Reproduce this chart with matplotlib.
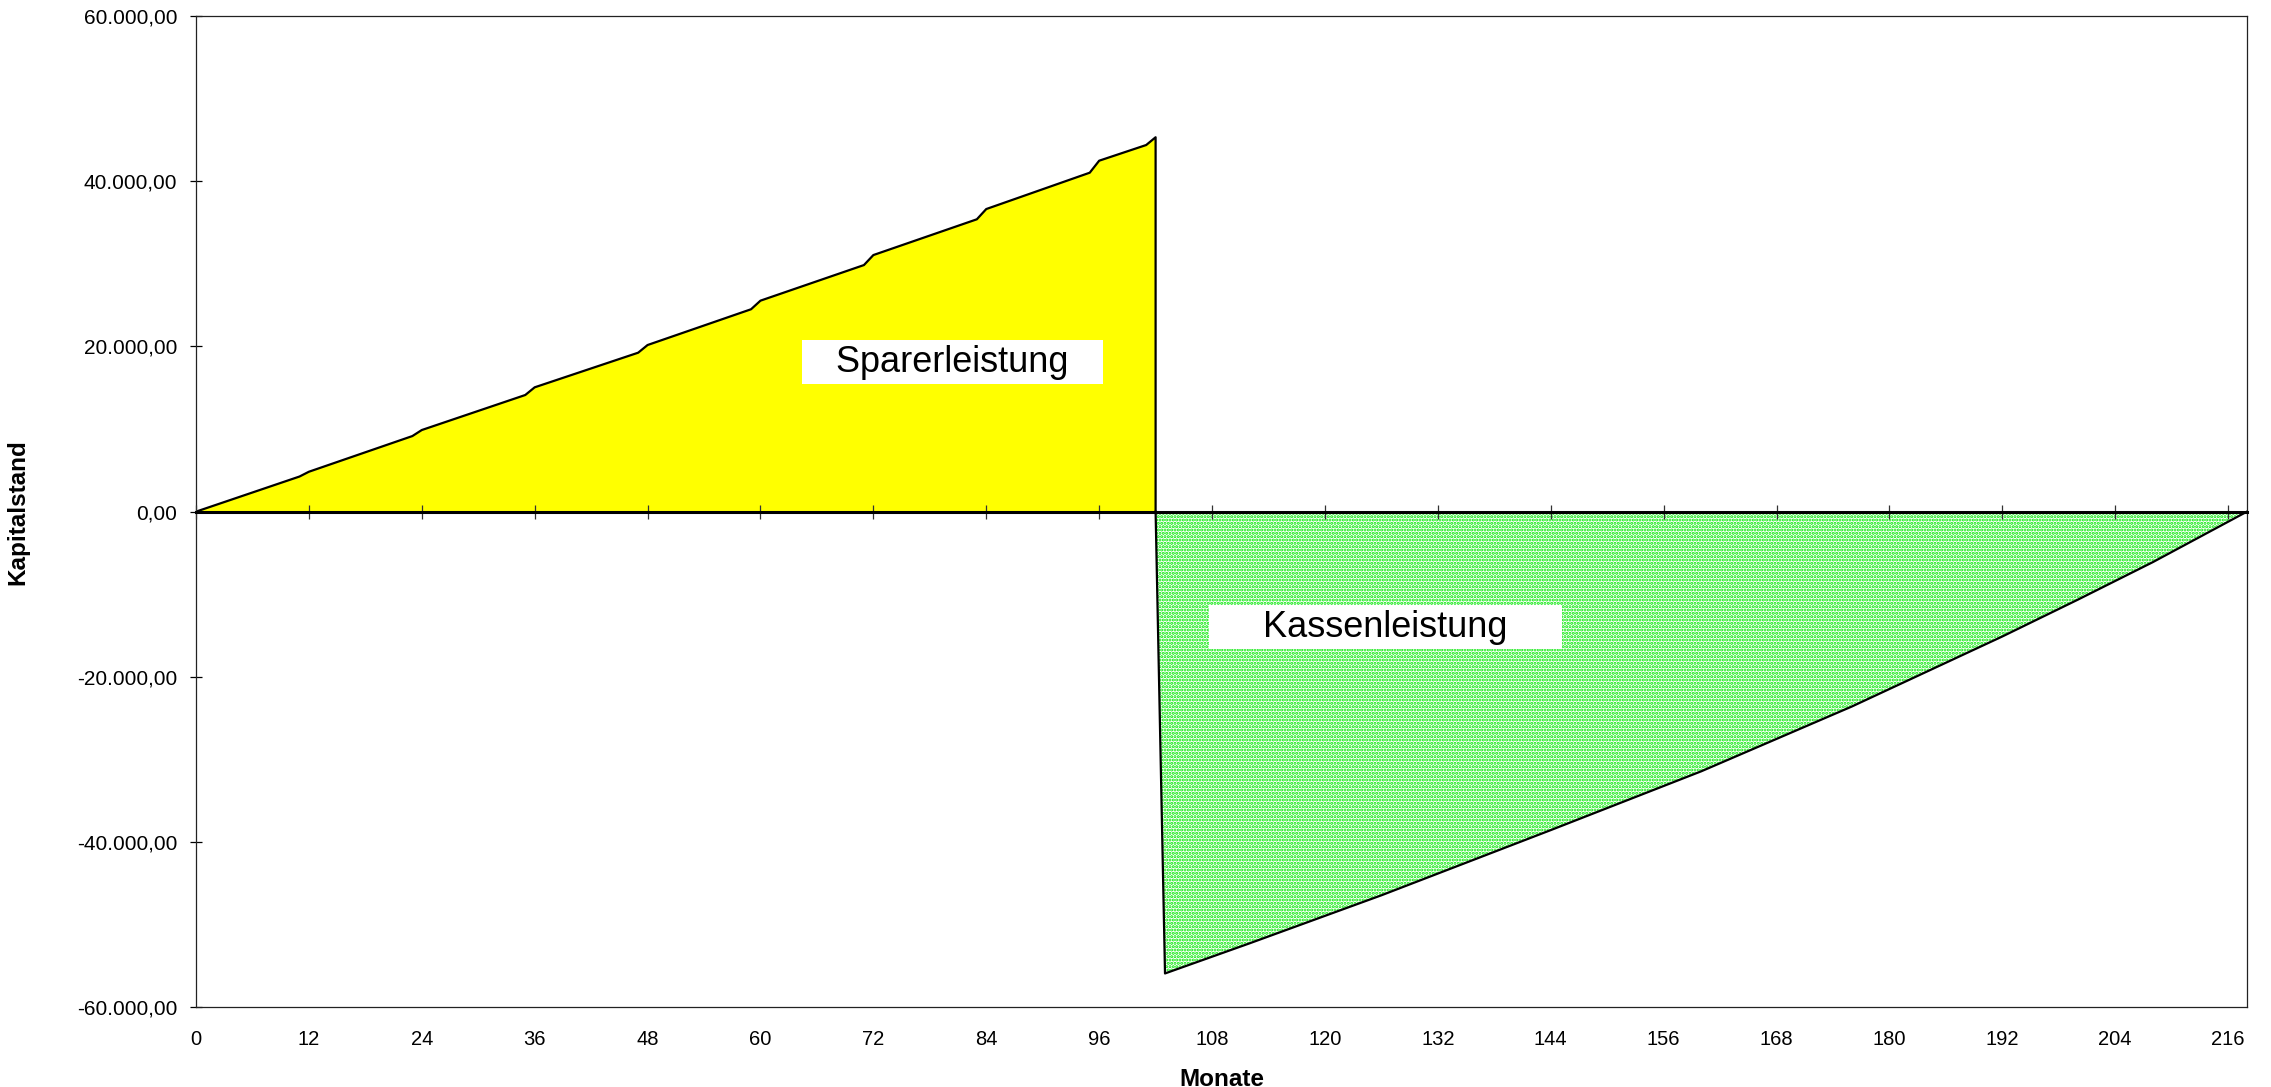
import matplotlib.pyplot as plt
from matplotlib.ticker import FuncFormatter, MultipleLocator

plt.rcParams['font.family'] = ['Liberation Sans', 'DejaVu Sans']
plt.rcParams['hatch.linewidth'] = 1.5

# Sparphase: Kapitalstand je Monat (Knickpunkte der Kurve)
spar_months = [0, 11, 12, 23, 24, 35, 36, 47, 48, 59, 60, 71, 72, 83, 84,
               95, 96, 101, 102, 102]
spar_values = [0, 4250, 4830, 9150, 9880, 14120, 15050, 19240, 20170, 24500,
               25540, 29850, 31060, 35390, 36630, 41030, 42480, 44380, 45320, 0]

# Darlehensphase: Restschuld je Monat
kasse_months = [102, 103, 112, 126, 144, 160, 176, 192, 200, 208, 218]
kasse_values = [0, -55900, -52250, -46440, -38550, -31430, -23590, -15110,
                -10670, -6110, 0]

x_ticks = list(range(0, 217, 12))


def de_format(v, pos=None):
    s = f"{v:,.2f}"
    return s.replace(",", "X").replace(".", ",").replace("X", ".")


fig = plt.figure(figsize=(22.71, 10.87), dpi=100)
ax = fig.add_axes([0.0863, 0.0733, 0.9031, 0.912])

ax.fill_between(spar_months, spar_values, 0, facecolor='#ffff00', linewidth=0)
ax.plot(spar_months, spar_values, color='black', lw=1.6)

ax.fill_between(kasse_months, kasse_values, 0, facecolor='white',
                edgecolor='#00e800', hatch='.....', linewidth=0)
ax.plot(kasse_months, kasse_values, color='black', lw=1.6)

ax.set_xlim(0, 218)
ax.set_ylim(-60000, 60000)
ax.yaxis.set_major_locator(MultipleLocator(20000))
ax.yaxis.set_major_formatter(FuncFormatter(de_format))
ax.set_xticks(x_ticks)
ax.tick_params(axis='x', length=0, pad=16, labelsize=14.5)
ax.tick_params(axis='y', direction='inout', length=9, width=0.9, pad=9,
               labelsize=15)
for sp in ax.spines.values():
    sp.set_linewidth(0.9)
    sp.set_color('#222222')

ax.set_xlabel('Monate', fontsize=17.5, fontweight='bold', labelpad=14)
ax.set_ylabel('Kapitalstand', fontsize=17.5, fontweight='bold', labelpad=34)

# Nulllinie mit Monats-Ticks
ax2 = ax.twiny()
ax2.set_xlim(ax.get_xlim())
ax2.set_xticks(x_ticks)
ax2.xaxis.set_ticks_position('bottom')
ax2.spines['bottom'].set_position(('data', 0))
ax2.spines['bottom'].set_linewidth(2.2)
for side in ['top', 'left', 'right']:
    ax2.spines[side].set_visible(False)
ax2.tick_params(axis='x', direction='inout', length=9.5, width=0.9,
                labelbottom=False, labeltop=False, color='#333333')

box = dict(boxstyle='square,pad=0.12', facecolor='white', edgecolor='none')
ax.text(80.4, 18100, '   Sparerleistung   ', fontsize=26, ha='center',
        va='center', bbox=box)
ax.text(126.4, -13970, '     Kassenleistung     ', fontsize=26, ha='center',
        va='center', bbox=box)

fig.savefig('out.png', dpi=100)
